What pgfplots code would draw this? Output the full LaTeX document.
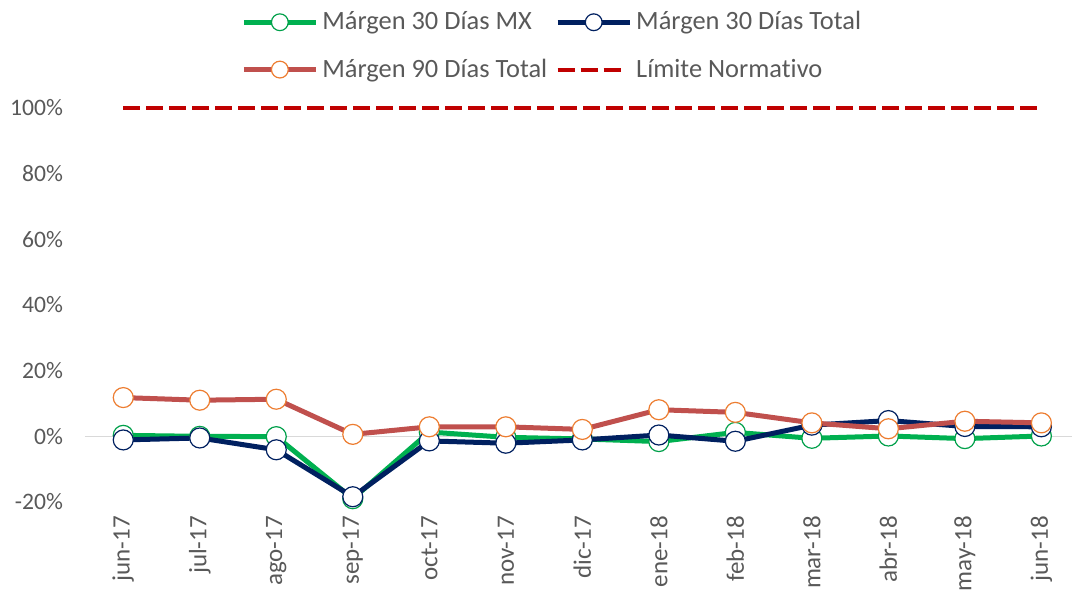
\documentclass[border=0pt]{standalone}
\usepackage{pgfplots}
\pgfplotsset{compat=1.18}
\usepackage{fontspec}
\setmainfont{Carlito}[Ligatures={NoCommon}]
\definecolor{txt}{HTML}{595959}
\definecolor{cgreen}{HTML}{00B050}
\definecolor{cgreenm}{HTML}{00A04A}
\definecolor{cnavy}{HTML}{002060}
\definecolor{cred}{HTML}{C0504D}
\definecolor{corange}{HTML}{ED7D31}
\definecolor{climit}{HTML}{C00000}
\definecolor{cgrid}{HTML}{D9D9D9}
\begin{document}
\begin{tikzpicture}
\begin{axis}[
  at={(0,0)}, anchor=south west,
  scale only axis, width=493.5pt, height=197pt,
  xmin=-0.5, xmax=12.4, ymin=-20, ymax=100,
  axis line style={draw=none},
  tick style={draw=none},
  xtick={0,...,12},
  xticklabels={jun-17,jul-17,ago-17,sep-17,oct-17,nov-17,dic-17,ene-18,feb-18,mar-18,abr-18,may-18,jun-18},
  xticklabel style={rotate=90, anchor=east, font=\fontsize{12.5}{14}\selectfont, text=txt, xshift=-3.5pt},
  ytick={-20,0,20,40,60,80,100},
  yticklabel={\pgfmathprintnumber{\tick}\%},
  yticklabel style={font=\fontsize{11.8}{13}\selectfont, text=txt, xshift=-7.5pt},
  /pgf/number format/assume math mode=true,
  legend columns=2,
  legend style={at={(0.158,1.266)}, anchor=north west, draw=none, fill=none,
    font=\fontsize{13.2}{15}\selectfont, text=txt,
    inner xsep=0pt,
    /tikz/every even column/.append style={column sep=2pt},
    row sep=9pt},
  legend cell align=left,
  legend image code/.code={
    \draw[#1, mark=none] (0pt,0pt) -- (36pt,0pt);
    \draw[#1, draw=none, only marks, mark size=4.2pt] plot coordinates {(18pt,0pt)};
  },
  clip=false,
]
\draw[cgrid, line width=0.8pt] (axis cs:-0.5,0) -- (axis cs:12.4,0);
\addplot[cgreen, line width=2.5pt, mark=*, mark size=5pt,
  mark options={fill=white, draw=cgreenm, line width=0.6pt}]
  coordinates {(0,0.3)(1,0.0)(2,-0.1)(3,-19.0)(4,1.3)(5,-0.3)(6,-0.8)(7,-1.6)(8,1.2)(9,-0.6)(10,0.1)(11,-0.7)(12,0.1)};
\addlegendentry{Márgen 30 Días MX}
\addplot[cnavy, line width=2.5pt, mark=*, mark size=5pt,
  mark options={fill=white, draw=cnavy, line width=0.6pt}]
  coordinates {(0,-1.1)(1,-0.5)(2,-4.1)(3,-18.4)(4,-1.4)(5,-2.1)(6,-1.1)(7,0.4)(8,-1.5)(9,3.4)(10,4.8)(11,3.0)(12,2.9)};
\addlegendentry{Márgen 30 Días Total}
\addplot[cred, line width=2.5pt, mark=*, mark size=5pt,
  mark options={fill=white, draw=corange, line width=0.6pt}]
  coordinates {(0,11.8)(1,11.0)(2,11.3)(3,0.6)(4,2.9)(5,2.9)(6,2.1)(7,8.1)(8,7.3)(9,4.1)(10,2.3)(11,4.6)(12,4.1)};
\addlegendentry{Márgen 90 Días Total}
\addplot[climit, line width=2pt, dash pattern=on 8.5pt off 3pt, mark=none,
  legend image code/.code={\draw[climit, line width=2pt, dash pattern=on 8.5pt off 3pt] (0pt,0pt) -- (31.5pt,0pt);}]
  coordinates {(0,100)(12,100)};
\addlegendentry{Límite Normativo}
\end{axis}
\pgfresetboundingbox
\path (-42.5pt,-48pt) rectangle (493.5pt,251pt);
\end{tikzpicture}
\end{document}
